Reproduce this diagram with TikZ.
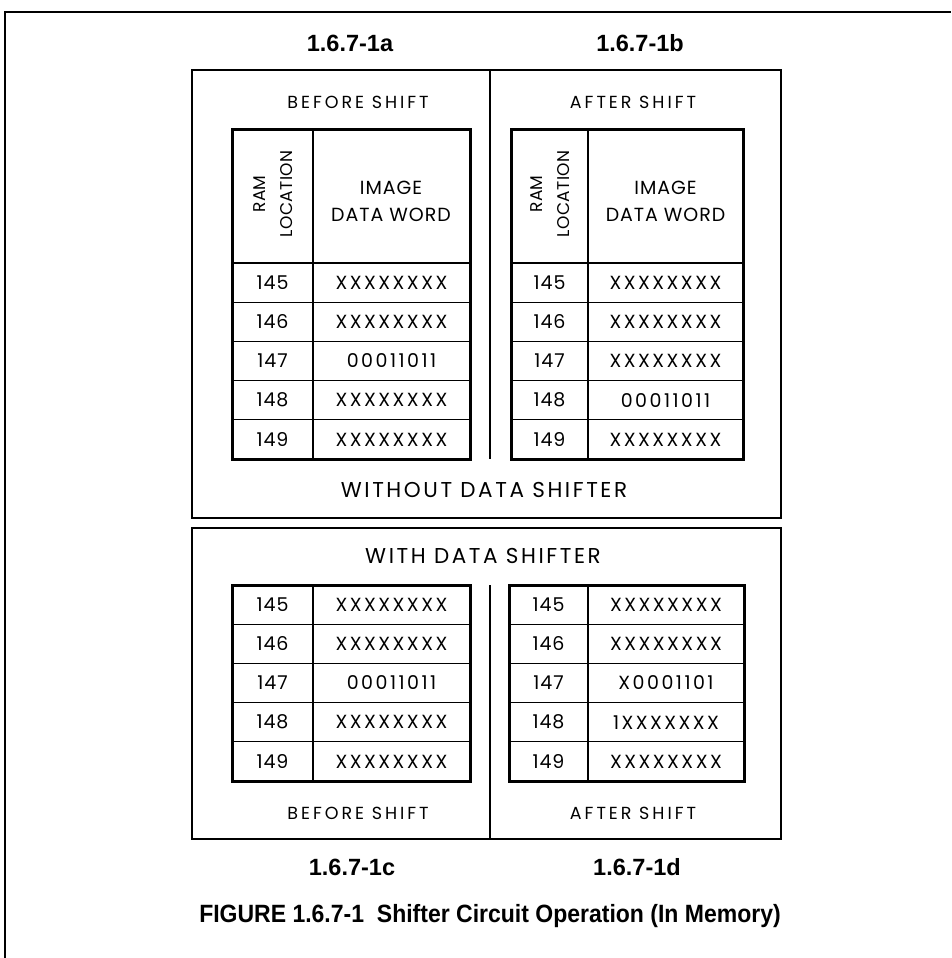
\documentclass[tikz,border=0pt]{standalone}
\usepackage{fontspec}
\setmainfont{Poppins}
\newfontfamily\lblfont{Liberation Sans}
\newfontfamily\captfont[FakeStretch=0.92]{Liberation Sans}
\newcommand\memrows[7]{%
  % #1 prefix, #2 x0, #3 xc, #4 x1, #5 y of first row top, #6 row height, #7 list loc/val
  \foreach \loc/\val [count=\k] in {#7} {
    \node[loct] (#1l\k) at ({(#2+#3)/2},{#5+(\k-0.5)*#6}) {\loc};
    \node[datat] (#1d\k) at ({(#3+#4)/2},{#5+(\k-0.5)*#6}) {\val};
  }
  \foreach \k in {1,2,3,4} \draw[tblinner] (#2,{#5+\k*#6}) -- (#4,{#5+\k*#6});
}
\begin{document}
\begin{tikzpicture}[x=1pt,y=-1pt,
  loct/.style={font=\fontsize{19}{22}\selectfont\addfontfeature{LetterSpace=5}, inner sep=0pt},
  datat/.style={font=\fontsize{19}{22}\selectfont\addfontfeature{LetterSpace=13}, inner sep=0pt},
  hdrt/.style={font=\fontsize{19}{27}\selectfont\addfontfeature{LetterSpace=5}, align=center, inner sep=0pt},
  ramt/.style={font=\fontsize{17}{27}\selectfont\addfontfeature{LetterSpace=2}, align=center, inner sep=0pt, rotate=90},
  shiftlbl/.style={font=\fontsize{17.5}{20}\selectfont\addfontfeature{LetterSpace=17}, inner sep=0pt},
  biglbl/.style={font=\fontsize{21.5}{24}\selectfont\addfontfeature{LetterSpace=12}, inner sep=0pt},
  figlbl/.style={font=\lblfont\bfseries\fontsize{23.5}{26}\selectfont, inner sep=0pt},
  captlbl/.style={font=\captfont\bfseries\fontsize{25}{28}\selectfont, inner sep=0pt, anchor=base},
  frameline/.style={line width=2pt},
  boxline/.style={line width=2pt},
  tblouter/.style={line width=3pt},
  tblinner/.style={line width=1.3pt},
  tblmid/.style={line width=2.2pt}]
\useasboundingbox (0,0) rectangle (951,958);
% page frame
\draw[frameline] (4,12) -- (951,12);
\draw[frameline] (5,12) -- (5,958);
% labels
\node[figlbl] (la) at (350,43) {1.6.7-1a};
\node[figlbl] (lb) at (640,43) {1.6.7-1b};
\node[figlbl] (lc) at (352,867) {1.6.7-1c};
\node[figlbl] (ld) at (637,867) {1.6.7-1d};
\node[captlbl] (capt) at (490,922) {FIGURE 1.6.7-1\ \ Shifter Circuit Operation (In Memory)};
% upper box
\draw[boxline] (192,70) rectangle (781,518);
\draw[boxline] (490,70) -- (490,459);
\node[shiftlbl] (bsa) at (358,102) {BEFORE SHIFT};
\node[shiftlbl] (asb) at (633,102) {AFTER SHIFT};
\node[biglbl] (wo) at (484,490) {WITHOUT DATA SHIFTER};
% table a
\draw[tblouter] (232,129) rectangle (470,459);
\draw[tblmid] (232,263) -- (470,263);
\draw[tblinner] (313,129) -- (313,459);
\node[ramt] (ah1) at (273,194) {RAM\\LOCATION};
\node[hdrt] (ah2) at (391,201.5) {IMAGE\\DATA WORD};
\memrows{a}{232}{313}{470}{263}{39.2}{145/XXXXXXXX,146/XXXXXXXX,147/00011011,148/XXXXXXXX,149/XXXXXXXX}
% table b
\draw[tblouter] (511,129) rectangle (743,459);
\draw[tblmid] (511,263) -- (743,263);
\draw[tblinner] (588,129) -- (588,459);
\node[ramt] (bh1) at (550,194) {RAM\\LOCATION};
\node[hdrt] (bh2) at (665.5,201.5) {IMAGE\\DATA WORD};
\memrows{b}{511}{588}{743}{263}{39.2}{145/XXXXXXXX,146/XXXXXXXX,147/XXXXXXXX,148/00011011,149/XXXXXXXX}
% lower box
\draw[boxline] (192,528) rectangle (781,839);
\draw[boxline] (490,585) -- (490,839);
\node[biglbl] (wi) at (483,556) {WITH DATA SHIFTER};
\node[shiftlbl] (bsc) at (358,813) {BEFORE SHIFT};
\node[shiftlbl] (asd) at (633,813) {AFTER SHIFT};
% table c
\draw[tblouter] (232,585) rectangle (470,781);
\draw[tblinner] (313,585) -- (313,781);
\memrows{c}{232}{313}{470}{585}{39.2}{145/XXXXXXXX,146/XXXXXXXX,147/00011011,148/XXXXXXXX,149/XXXXXXXX}
% table d
\draw[tblouter] (509,585) rectangle (744,781);
\draw[tblinner] (588,585) -- (588,781);
\memrows{d}{509}{588}{744}{585}{39.2}{145/XXXXXXXX,146/XXXXXXXX,147/X0001101,148/1XXXXXXX,149/XXXXXXXX}
\end{tikzpicture}
\end{document}
